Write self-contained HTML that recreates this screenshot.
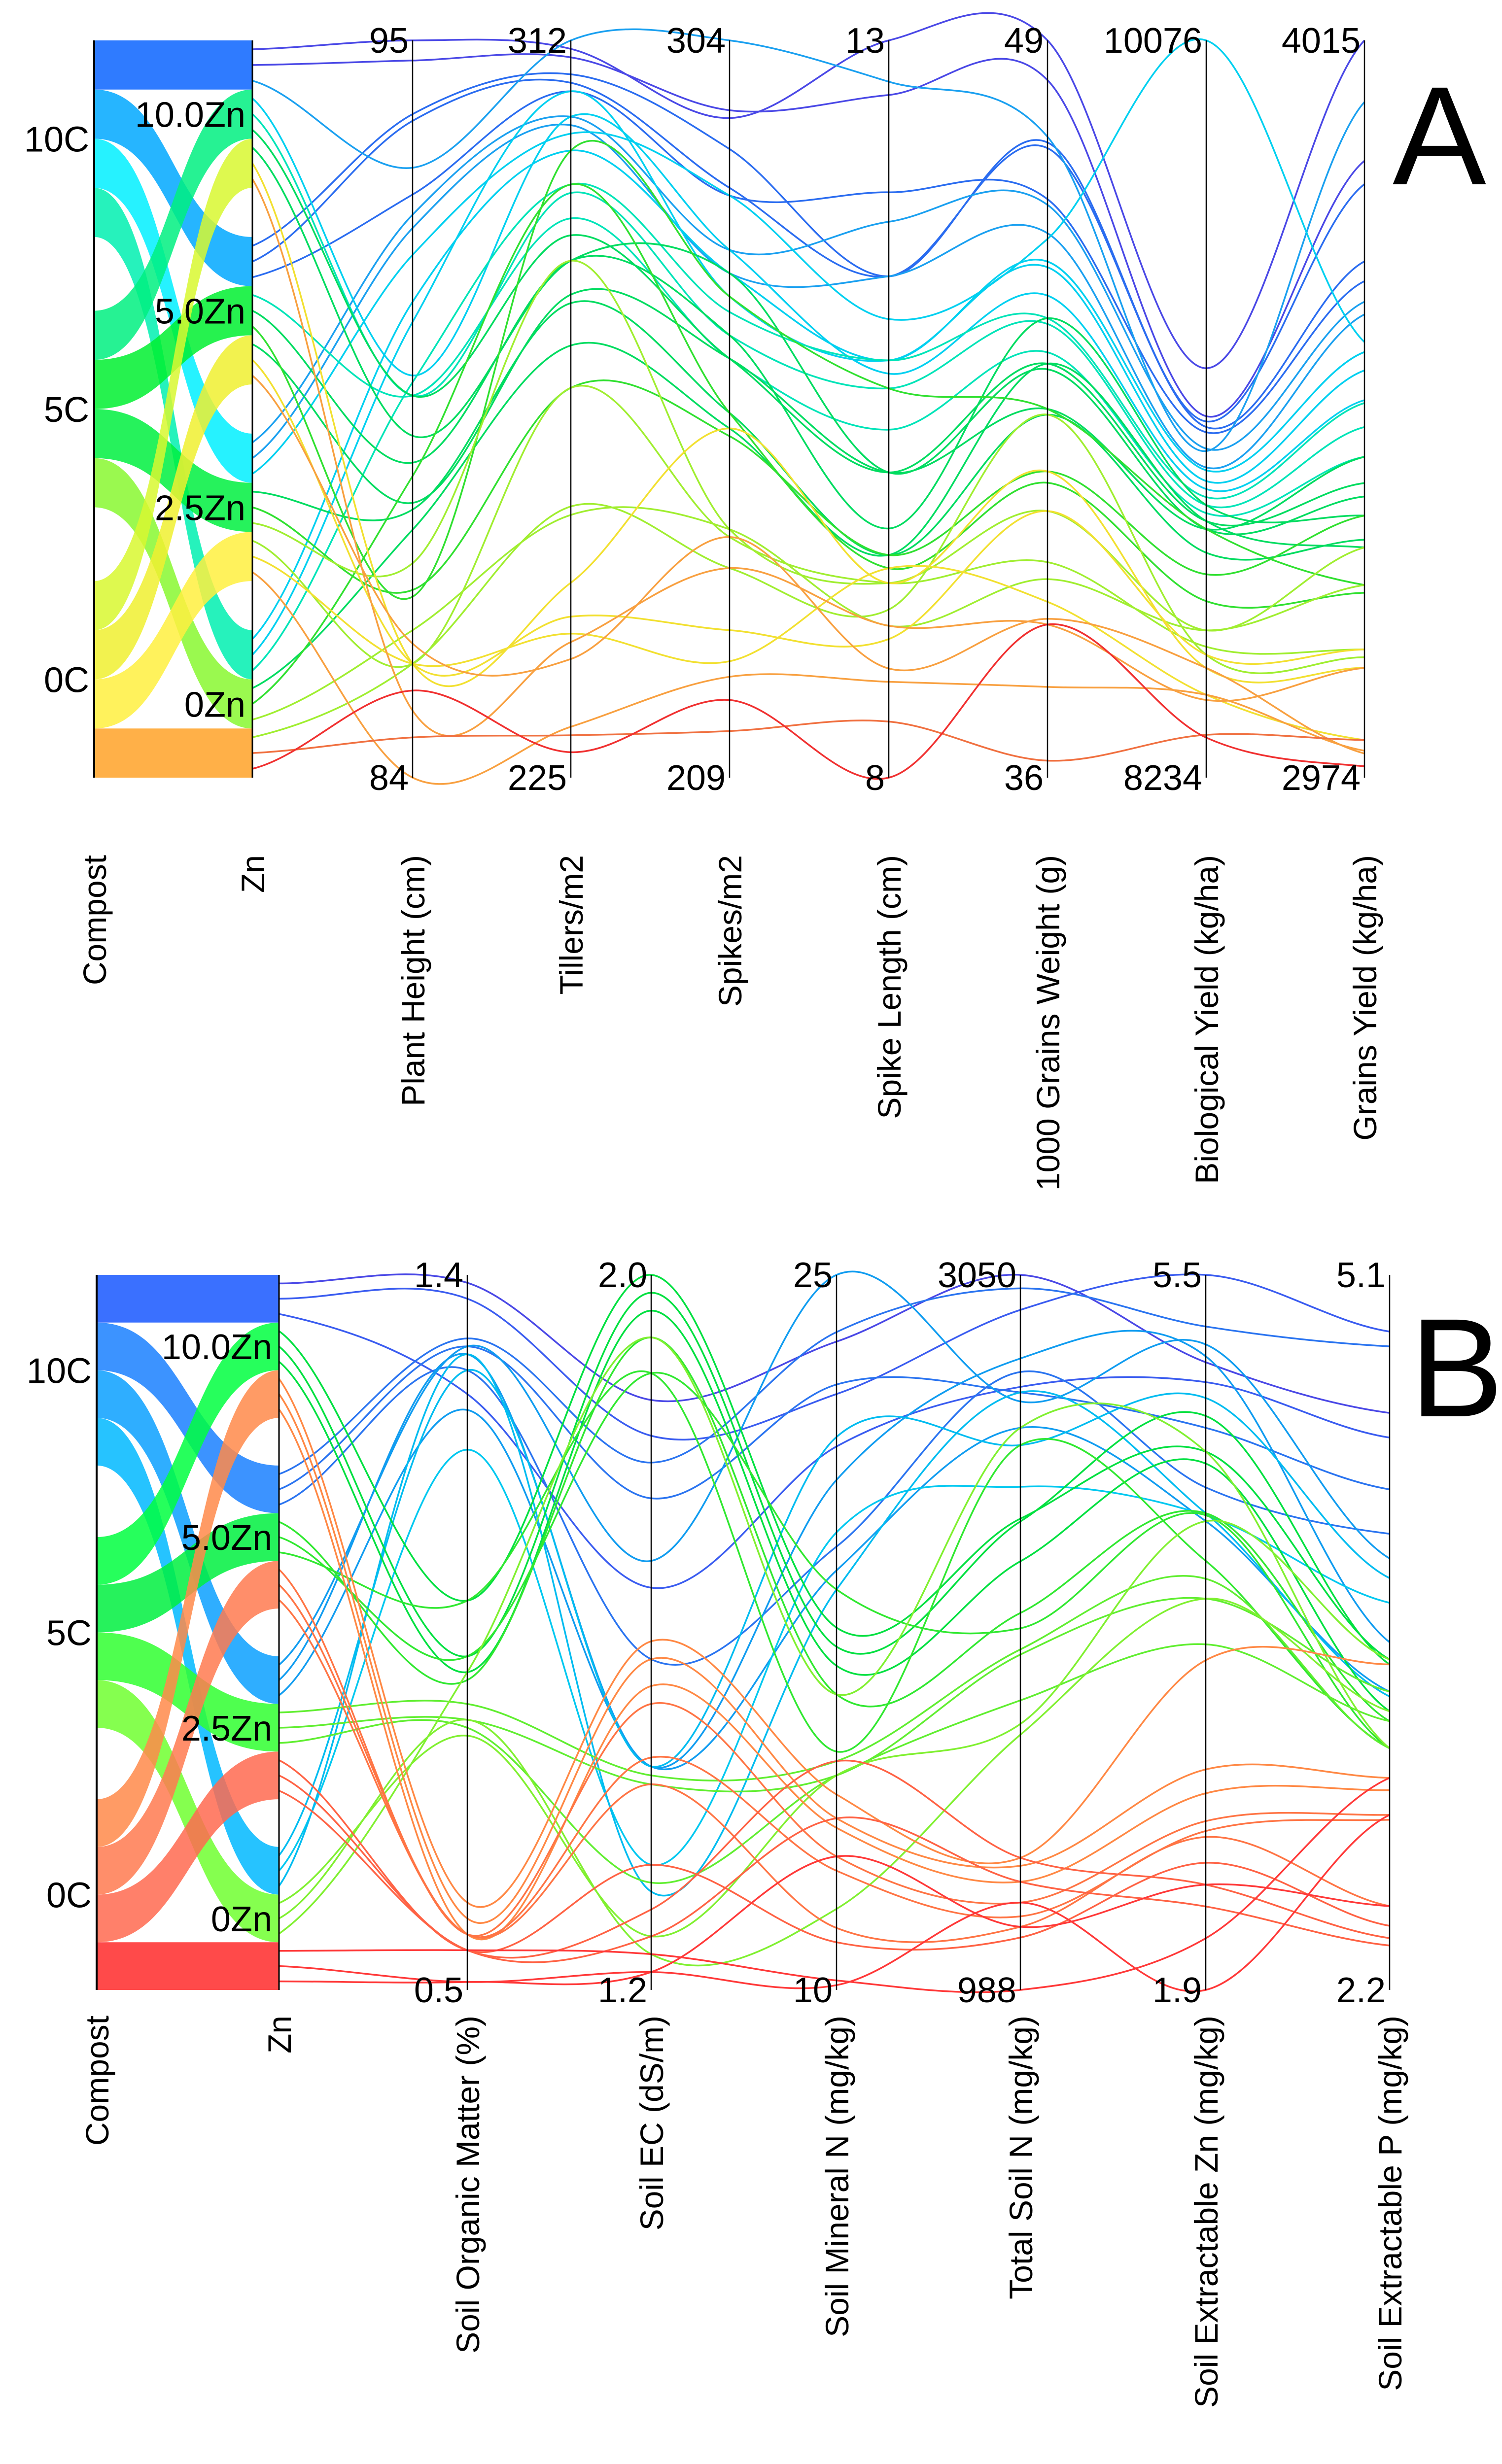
<!DOCTYPE html>
<html><head><meta charset="utf-8">
<style>
html,body{margin:0;padding:0;background:#fff;overflow:hidden;width:3047px;height:5065px;}
svg{display:block;position:absolute;left:0;top:0;}
text{font-family:"Liberation Sans",Arial,sans-serif;fill:#000;}
</style></head>
<body>
<svg id="chart" xmlns="http://www.w3.org/2000/svg" width="3047" height="5065" viewBox="0 0 3047 5065" overflow="hidden">
<rect x="0" y="0" width="3047" height="5065" fill="#fff"/>
<g id="panelA"></g>
<g id="panelB"></g>
<text x="2920" y="374" font-size="285" text-anchor="middle">A</text>
<text x="2955" y="2874" font-size="285" text-anchor="middle">B</text>
</svg>
<script>
// ---------- PANEL A DATA ----------
const aAxisNames = ["Plant Height (cm)","Tillers/m2","Spikes/m2","Spike Length (cm)","1000 Grains Weight (g)","Biological Yield (kg/ha)","Grains Yield (kg/ha)"];
const aAxisMin = [84,225,209,8,36,8234,2974];
const aAxisMax = [95,312,304,13,49,10076,4015];
const aTopLabels = ["95","312","304","13","49","10076","4015"];
const aBottomLabels = ["84","225","209","8","36","8234","2974"];
const aZnSlot = [0,0,4,4,4,0,8,8,8,12,12,1,12,1,5,1,2,5,6,9,13,9,5,13,9,10,14,13,2,6,10,2,6,10,14,14];
const aPH = [95.0,94.7,93.9,93.8,92.7,93.1,92.4,92.2,91.8,91.1,90.8,90.0,89.9,89.7,89.7,89.7,89.1,88.7,88.1,88.0,87.7,86.8,86.7,88.5,87.2,85.7,85.7,86.2,85.7,85.7,85.7,85.0,86.0,84.0,84.6,85.3];
const aTI = [311,310,308,307,306,312,303,302,301,299,306,303,295,294,291,289,286,286,282,281,276,271,299,295,286,271,257,256,248,244,242,241,239,231,230,228];
const aSP = [294,295,290,285,284,304,277,274,284,274,271,277,269,266,263,263,274,266,263,256,254,253,271,256,241,240,236,241,254,228,224,236,240,222,215,219];
const aSL = [13.0,12.63,11.40,11.40,11.97,12.72,11.77,11.40,11.11,10.83,10.83,10.74,10.83,10.64,10.36,10.07,10.07,9.69,10.07,9.51,9.51,9.51,10.64,9.42,9.32,9.32,9.14,9.03,9.32,8.94,9.42,9.03,8.74,8.65,8.38,8.0];
const aGW = [49.0,48.3,47.2,47.1,46.2,47.3,46.1,45.6,45.5,45.1,45.0,44.5,44.1,44.0,43.5,43.3,43.2,44.1,42.5,42.4,43.3,41.4,42.5,41.2,40.7,39.8,42.4,39.5,41.4,40.7,39.1,38.7,38.8,37.6,36.3,38.7];
const aBY = [9257,9137,9124,9110,9097,9050,9056,9009,10076,9002,8975,8955,8935,8915,8895,8875,8855,8915,8855,8796,8875,8742,8855,8675,8602,8561,8541,8602,8508,8541,8441,8428,8508,8441,8341,8334];
const aGY = [4015,3845,3812,3703,3675,3928,3646,3628,3589,3575,3549,3507,3503,3469,3427,3390,3371,3344,3427,3310,3299,3344,3246,3235,3299,3155,3144,3246,3129,3155,3027,3129,3008,3012,3027,2990];
const aColors = ["#4a48e6","#4a48e6","#2a6cf0","#2a6cf0","#2a6cf0","#1aa0f0","#1aa0f0","#1aa0f0","#00d0f0","#00d0f0","#00d0f0","#00d0f0","#00e4b8","#00e4b8","#00e4b8","#00dc60","#00dc60","#00dc60","#00dc60","#00dc60","#00dc60","#30e030","#30e030","#30e030","#a0ee30","#a0ee30","#a0ee30","#a0ee30","#f2e030","#f2e030","#f2e030","#f8a040","#f8a040","#f8a040","#f07040","#f03030"];

// ---------- PANEL B DATA ----------
const bAxisNames = ["Soil Organic Matter (%)","Soil EC (dS/m)","Soil Mineral N (mg/kg)","Total Soil N (mg/kg)","Soil Extractable Zn (mg/kg)","Soil  Extractable P (mg/kg)"];
const bAxisMin = [0.5,1.2,10,988,1.9,2.2];
const bAxisMax = [1.4,2.0,25,3050,5.5,5.1];
const bTopLabels = ["1.4","2.0","25","3050","5.5","5.1"];
const bBottomLabels = ["0.5","1.2","10","988","1.9","2.2"];
const bZnSlot = [0,0,0,4,4,4,8,8,8,12,12,12,1,1,1,5,5,5,9,9,9,13,13,13,2,2,2,6,6,6,10,10,10,14,14,14];
const bSOM = [1.39,1.37,1.25,1.32,1.31,1.28,1.31,1.30,1.23,1.28,1.18,1.30,0.99,0.92,0.90,0.89,0.92,0.99,0.86,0.84,0.83,0.82,0.84,0.90,0.61,0.59,0.57,0.57,0.57,0.57,0.55,0.55,0.55,0.55,0.51,0.51];
const bEC = [1.86,1.82,1.65,1.79,1.75,1.57,1.68,1.45,1.45,1.45,1.34,1.31,2.0,1.98,1.96,1.93,1.89,1.89,1.44,1.43,1.32,1.26,1.24,1.93,1.59,1.57,1.54,1.52,1.46,1.43,1.34,1.29,1.26,1.24,1.22,1.22];
const bMN = [23.6,22.5,21.4,23.8,22.7,19.3,25.0,20.7,18.8,21.6,19.6,18.4,17.6,17.2,16.8,16.2,18.4,15.0,14.8,14.5,14.5,14.5,11.7,16.2,14.1,13.6,13.4,12.8,12.5,11.3,11.0,14.8,13.6,10.2,10.1,12.8];
const bTN = [3050,2949,2727,3011,2711,2770,2685,2809,2609,2559,2439,2711,2347,2339,2224,2075,2031,2559,1970,1955,1823,1755,1724,2609,1369,1346,1300,1240,1200,1170,1139,1369,1300,988,1240,1170];
const bZN = [5.06,5.5,4.96,5.24,4.73,4.43,5.15,5.09,4.26,4.88,4.29,4.30,4.61,4.79,4.55,4.30,4.29,4.06,3.97,3.87,3.64,4.26,3.87,4.61,3.56,3.01,2.89,2.75,2.70,2.67,2.54,2.43,2.32,2.16,1.9,2.43];
const bP = [4.54,4.87,4.44,4.81,4.23,4.05,3.95,3.61,3.41,3.87,3.77,3.39,3.54,3.52,3.33,3.29,3.18,3.18,3.18,3.41,3.29,3.54,3.33,3.18,3.52,3.06,3.01,2.91,2.89,2.54,2.46,2.41,2.38,3.06,2.91,2.54];
const bColors = ["#4a48e6","#3a5cf0","#3a5cf0","#2a74f0","#2a74f0","#2a74f0","#109cf0","#109cf0","#109cf0","#00bcf0","#00c8f0","#00bcf0","#00e040","#00e040","#00e040","#30e830","#30e830","#30e830","#60ee30","#60ee30","#60ee30","#80f030","#80f030","#80f030","#ff8844","#ff8844","#ff8844","#ff7444","#ff7444","#ff7444","#ff6244","#ff6244","#ff6244","#ff3838","#ff3838","#ff3838"];

const aRibbonLeft = [1,2,3,5.5,6.5,7.5,8.5,11,12,13];
const aRibbonRight = [4,8,12,1,5,9,13,2,6,10];
const aRibbonColors = ["#00a8ff","#00f0ff","#00f0b0","#00f080","#00f030","#00f040","#88f830","#d8f830","#f0f030","#fff040"];
const bRibbonColors = ["#1a80ff","#0aa0ff","#00b8ff","#00ff40","#00f040","#30ff30","#70ff30","#ff8a4a","#ff7a50","#ff6a50"];
const compostLabels = ["10C","5C","0C"];
const compostLabelSlots = [2,7.5,13];
const znLabels = ["10.0Zn","5.0Zn","2.5Zn","0Zn"];
const znLabelSlots = [1.5,5.5,9.5,13.5];

const NS = "http://www.w3.org/2000/svg";
function mk(tag, attrs, parent){const e=document.createElementNS(NS,tag);for(const k in attrs)e.setAttribute(k,attrs[k]);parent.appendChild(e);return e;}
function catmull(pts){
  const P=[[pts[0][0]-(pts[1][0]-pts[0][0]),pts[0][1]],...pts,[pts[pts.length-1][0]+(pts[pts.length-1][0]-pts[pts.length-2][0]),pts[pts.length-1][1]]];
  let d="M"+P[1][0].toFixed(1)+","+P[1][1].toFixed(1);
  for(let i=1;i<P.length-2;i++){
    const p0=P[i-1],p1=P[i],p2=P[i+1],p3=P[i+2];
    const c1=[p1[0]+(p2[0]-p0[0])/6,p1[1]+(p2[1]-p0[1])/6];
    const c2=[p2[0]-(p3[0]-p1[0])/6,p2[1]-(p3[1]-p1[1])/6];
    d+="C"+c1[0].toFixed(1)+","+c1[1].toFixed(1)+" "+c2[0].toFixed(1)+","+c2[1].toFixed(1)+" "+p2[0].toFixed(1)+","+p2[1].toFixed(1);
  }
  return d;
}

function drawPanel(cfg){
  const g=cfg.g, top=cfg.top, bot=cfg.bot, h=(bot-top)/15;
  const slotY=s=>top+s*h;
  const b1=mk("rect",{x:cfg.xl,y:top,width:cfg.xr-cfg.xl,height:h,fill:cfg.topBlock},g);
  
  
  const b2=mk("rect",{x:cfg.xl,y:slotY(14),width:cfg.xr-cfg.xl,height:h,fill:cfg.botBlock},g);
  
  
  const mx=(cfg.xl+cfg.xr)/2;
  aRibbonLeft.forEach((ls,i)=>{
    const yl=slotY(ls), yr=slotY(aRibbonRight[i]);
    const d="M"+cfg.xl+","+yl+" C"+mx+","+yl+" "+mx+","+yr+" "+cfg.xr+","+yr+" L"+cfg.xr+","+(yr+h)+" C"+mx+","+(yr+h)+" "+mx+","+(yl+h)+" "+cfg.xl+","+(yl+h)+"Z";
    const r=mk("path",{d:d,fill:cfg.ribbonColors[i],"fill-opacity":"0.85"},g);
    
    
  });
  const xs=cfg.axisX;
  const yOf=(v,k)=>bot-(v-cfg.min[k])/(cfg.max[k]-cfg.min[k])*(bot-top);
  const slotCount={};
  cfg.slots.forEach((s,i)=>{
    const j=(slotCount[s]=(slotCount[s]||0)+1)-1;
    const pts=[[cfg.xr, slotY(s+0.18+0.32*j)]];
    cfg.series.forEach((arr,k)=>pts.push([xs[k],yOf(arr[i],k)]));
    const p=mk("path",{d:catmull(pts),fill:"none",stroke:cfg.colors[i],"stroke-width":"3.5"},g);
    
    
  });
  const la=mk("line",{x1:cfg.xl,y1:top,x2:cfg.xl,y2:bot,stroke:"#000","stroke-width":"4"},g);
  
  
  const za=mk("line",{x1:cfg.xr,y1:top,x2:cfg.xr,y2:bot,stroke:"#000","stroke-width":"3"},g);
  
  
  xs.forEach((x,k)=>{
    const a=mk("line",{x1:x,y1:top,x2:x,y2:bot,stroke:"#000","stroke-width":"2.5"},g);
    
    
    const t1=mk("text",{x:x-8,y:top+25,"font-size":"72","text-anchor":"end"},g);
    t1.textContent=cfg.topLabels[k];
    
    
    const t2=mk("text",{x:x-8,y:bot+25,"font-size":"72","text-anchor":"end"},g);
    t2.textContent=cfg.botLabels[k];
    
    
  });
  compostLabels.forEach((c,i)=>{
    const t=mk("text",{x:cfg.xl-10,y:slotY(compostLabelSlots[i])+26,"font-size":"72","text-anchor":"end"},g);
    t.textContent=c;
    
    
  });
  znLabels.forEach((c,i)=>{
    const t=mk("text",{x:cfg.xr-14,y:slotY(znLabelSlots[i])+26,"font-size":"72","text-anchor":"end"},g);
    t.textContent=c;
    
    
  });
  const titles=["Compost","Zn",...cfg.names];
  const tx=[cfg.xl,cfg.xr,...xs];
  titles.forEach((n,i)=>{
    const x=tx[i]+24, y=cfg.titleY;
    const t=mk("text",{x:x,y:y,"font-size":"66","text-anchor":"end",transform:"rotate(-90 "+x+" "+y+")"},g);
    t.textContent=n;
    
    
  });
}

drawPanel({g:document.getElementById("panelA"),top:82,bot:1578,xl:191,xr:512,
  axisX:[837,1158,1480,1803,2125,2447,2768],min:aAxisMin,max:aAxisMax,
  topLabels:aTopLabels,botLabels:aBottomLabels,names:aAxisNames,
  series:[aPH,aTI,aSP,aSL,aGW,aBY,aGY],slots:aZnSlot,colors:aColors,
  topBlock:"#2f7bff",botBlock:"#ffb048",ribbonColors:aRibbonColors,titleY:1735});
drawPanel({g:document.getElementById("panelB"),top:2587,bot:4038,xl:196,xr:566,
  axisX:[948,1321,1697,2070,2446,2819],min:bAxisMin,max:bAxisMax,
  topLabels:bTopLabels,botLabels:bBottomLabels,names:bAxisNames,
  series:[bSOM,bEC,bMN,bTN,bZN,bP],slots:bZnSlot,colors:bColors,
  topBlock:"#3a70ff",botBlock:"#ff4a4a",ribbonColors:bRibbonColors,titleY:4090});
</script>
</body></html>
